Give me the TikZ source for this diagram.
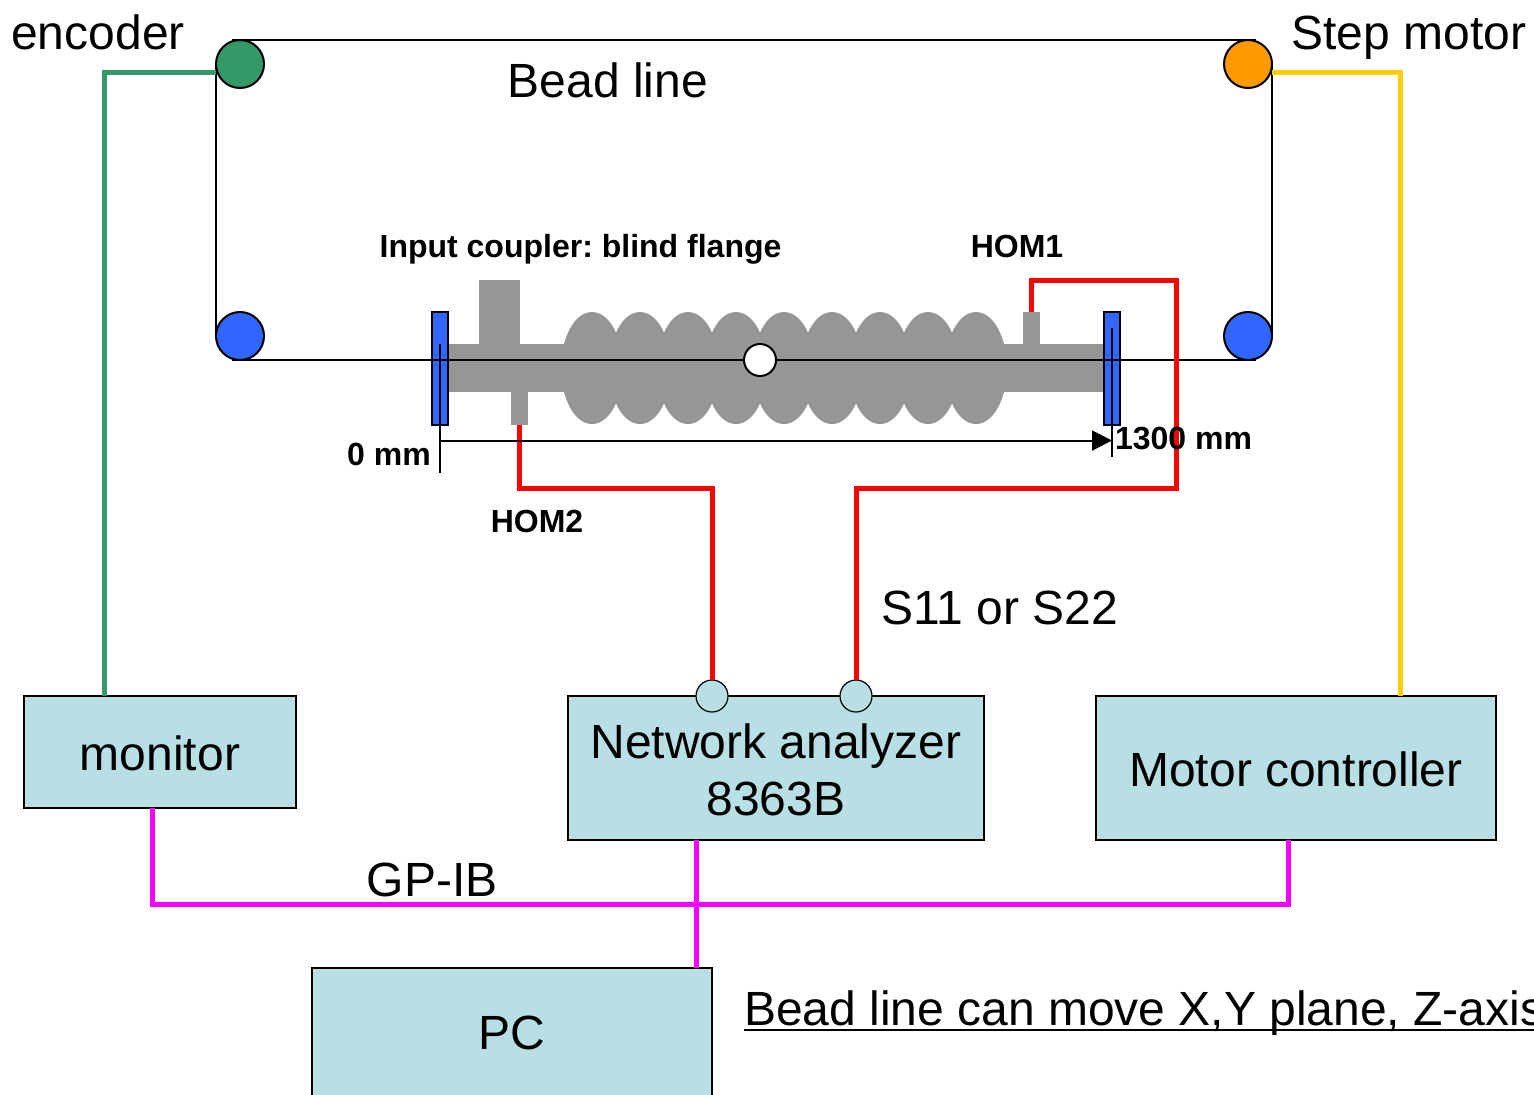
\documentclass[tikz,border=0pt]{standalone}
\usepackage{fontspec}
\setmainfont{Liberation Sans}
\usepackage{xcolor}
\usetikzlibrary{arrows.meta,positioning,calc}
\definecolor{boxcyan}{RGB}{184,223,227}
\definecolor{cavitygray}{RGB}{150,150,150}
\definecolor{pulleyblue}{RGB}{51,102,255}
\definecolor{encgreen}{RGB}{51,153,102}
\definecolor{motororange}{RGB}{255,153,0}
\definecolor{motoryellow}{RGB}{255,204,0}
\definecolor{gpibpink}{RGB}{255,0,255}
\frenchspacing

\begin{document}
\begin{tikzpicture}[
    x=0.5pt,y=-0.5pt,
    every node/.style={outer sep=0pt},
    beadline/.style={draw=black,line width=1pt},
    rfline/.style={draw=red,line width=2.5pt},
    gpib/.style={draw=gpibpink,line width=2.5pt},
    encline/.style={draw=encgreen,line width=2.5pt},
    motorline/.style={draw=motoryellow,line width=2.5pt},
    pulley/.style={circle,draw=black,line width=1pt,minimum size=24pt,inner sep=0pt},
    flange/.style={draw=black,line width=1pt,fill=pulleyblue,minimum width=8pt,minimum height=56.5pt,inner sep=0pt},
    port/.style={fill=cavitygray,inner sep=0pt,minimum width=8.5pt},
    socket/.style={circle,draw=black,line width=0.6pt,fill=boxcyan,minimum size=16pt,inner sep=0pt},
    instrument/.style={draw=black,line width=0.8pt,fill=boxcyan,align=center,font=\fontsize{24}{28.5}\selectfont,inner sep=0pt},
    biglabel/.style={font=\fontsize{24}{28}\selectfont,inner sep=0pt},
    smalllabel/.style={font=\fontsize{16}{19}\selectfont\bfseries,inner sep=0pt}
  ]
    \clip (0,0) rectangle (1534,1094);

    % Cavity body: beam pipe, cells and ports.
    \fill[cavitygray] (448,344) rectangle (1104,392);
    \fill[cavitygray] (479,280) rectangle (520,344);
    \foreach \cx in {592,640,...,976}
      \fill[cavitygray] (\cx,368) ellipse (15.5pt and 28pt);
    \node[port,minimum height=16.5pt] (hom2port) at (519.5,408.5) {};
    \node[port,minimum height=16pt] (hom1port) at (1031.5,328) {};
    \node[flange] (flangel) at (440,368.5) {};
    \node[flange] (flanger) at (1112,368.5) {};

    % Bead line loop over the four pulleys.
    \node[pulley,fill=encgreen] (enc) at (240,64) {};
    \node[pulley,fill=motororange] (stepm) at (1248,64) {};
    \node[pulley,fill=pulleyblue] (idlerl) at (240,336) {};
    \node[pulley,fill=pulleyblue] (idlerr) at (1248,336) {};
    \draw[beadline] ([xshift=-4pt]enc.north) -- ([xshift=4pt]stepm.north);
    \draw[beadline] (enc.west) -- (idlerl.west);
    \draw[beadline] (stepm.east) -- (idlerr.east);
    \draw[beadline] ([xshift=-4pt]idlerl.south) -- ([xshift=4pt]idlerr.south);
    \node[circle,draw=black,line width=1pt,fill=white,minimum size=16pt,inner sep=0pt] (bead) at (760,360) {};

    % Instruments.
    \node[instrument,minimum width=136pt,minimum height=56pt] (monitor) at (160,752) {\rule{0pt}{18.5pt}monitor};
    \node[instrument,minimum width=208pt,minimum height=72pt] (analyzer) at (776,768) {\rule{0pt}{19.5pt}Network analyzer\\8363B};
    \node[instrument,minimum width=200pt,minimum height=72pt] (motorctl) at (1296,768) {\rule{0pt}{18.5pt}Motor controller};
    \node[instrument,minimum width=200pt,minimum height=65pt] (pc) at (512,1033) {PC};

    % RF cables to the analyzer.
    \node[socket] (socketa) at (712,696) {};
    \node[socket] (socketb) at (856,696) {};
    \coordinate (rfcorner) at (1176,488);
    \coordinate (rftop) at (1176,280);
    \draw[rfline] (hom2port.south) -- ++(0,63) -| (socketa.north);
    \draw[rfline] (socketb.north) |- (rfcorner) -- (rftop) -| (hom1port.north);

    % Encoder, motor and GP-IB wiring.
    \draw[encline] ([yshift=-4pt]enc.west) -| ([xshift=-28pt]monitor.north);
    \draw[motorline] ([yshift=-4pt]stepm.east) -| ([xshift=52pt]motorctl.north);
    \draw[gpib] ([xshift=-4pt]monitor.south) -- ++(0,96) -| ([xshift=-4pt]motorctl.south);
    \draw[gpib] ([xshift=-40pt]analyzer.south) -- ([xshift=92pt]pc.north);

    % Scale from 0 to 1300 mm.
    \coordinate (zerotop) at (440,344);
    \coordinate (zerobot) at (440,472.5);
    \coordinate (endtop) at (1112,328);
    \coordinate (endbot) at (1112,456.5);
    \coordinate (zero) at (440,440.5);
    \coordinate (end) at (1112,440.5);
    \draw[beadline] (zerotop) -- (zerobot);
    \draw[beadline] (endtop) -- (endbot);
    \draw[beadline,-{Triangle[length=10pt,width=10pt]}] (zero) -- (end);

    \node[biglabel] (enclabel) at (98,32) {encoder};
    \node[biglabel] (motorlabel) at (1409,38) {Step motor};
    \node[biglabel] (beadlabel) at (608,80) {Bead line};
    \node[biglabel] (slabel) at (1000,608) {S11 or S22};
    \node[biglabel] (gpiblabel) at (432,880) {GP-IB};
    \node[smalllabel] (couplerlabel) at (580.5,249) {Input coupler: blind flange};
    \node[smalllabel] (hom1label) at (1017,246.5) {HOM1};
    \node[smalllabel] (hom2label) at (537,521.5) {HOM2};
    \node[smalllabel] (zerolabel) at (389,454.5) {0 mm};
    \node[smalllabel] (endlabel) at (1183.5,438.5) {1300 mm};
    \node[biglabel,anchor=base west] (movelabel) at (744,1025) {Bead line can move X,Y plane, Z-axis};
    \draw[beadline,line width=1.2pt] ([yshift=-2.5pt]movelabel.base west) -- ([yshift=-2.5pt]movelabel.base east);
\end{tikzpicture}
\end{document}
